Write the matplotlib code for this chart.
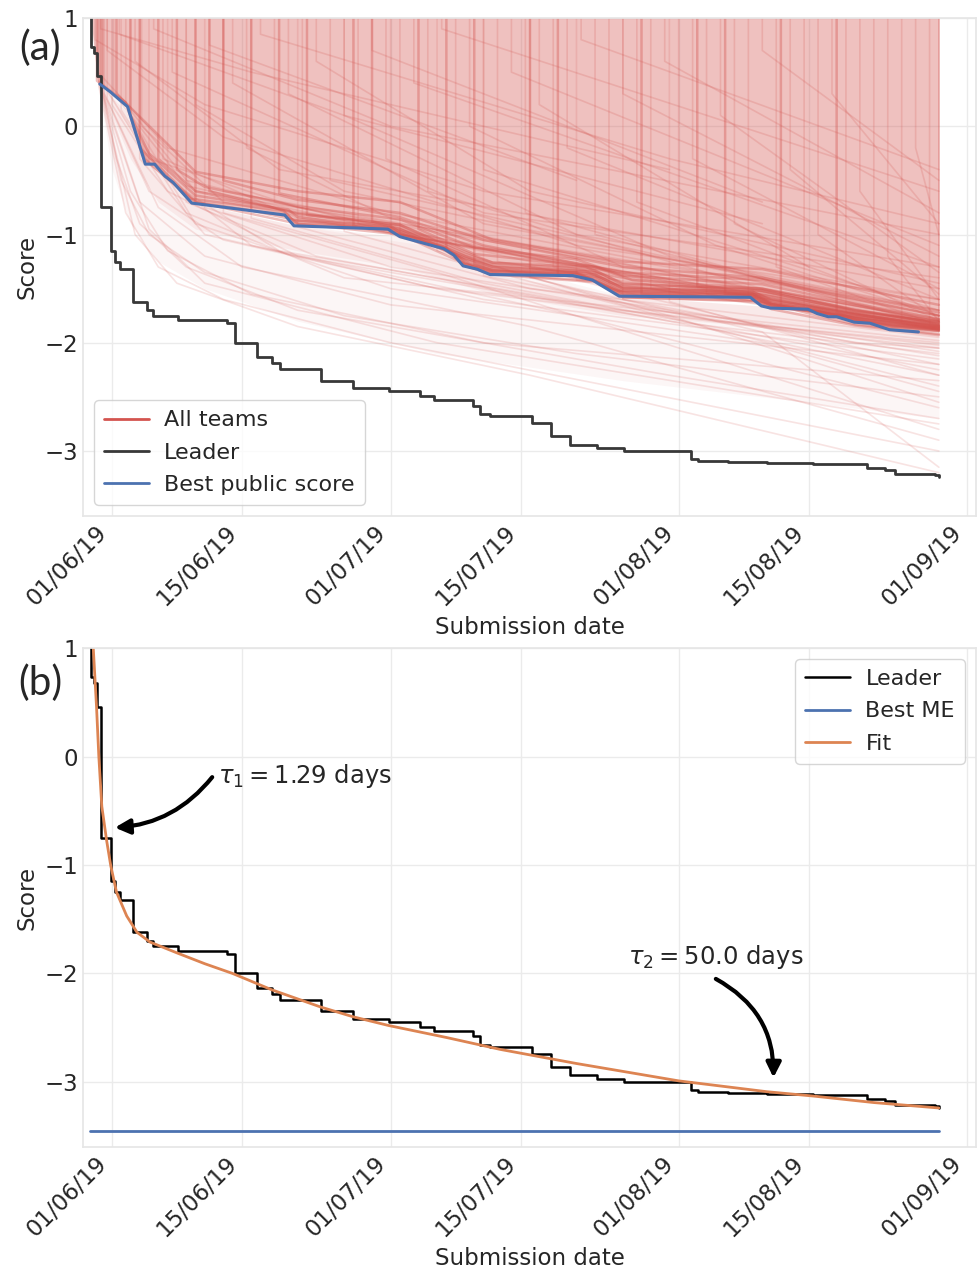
import numpy as np
import pandas as pd
import matplotlib
matplotlib.use('Agg')
import matplotlib.pyplot as plt
import matplotlib.dates as mdates
from matplotlib.lines import Line2D
import seaborn as sns

sns.set_theme(style='whitegrid')
plt.rcParams['font.family'] = ['DejaVu Sans', 'Noto Sans']
plt.rcParams['axes.unicode_minus'] = True

# days counted from 01/06/19
leader_days = [-2.3, -2.22, -1.9, -1.6, -1.18, -1.15, -0.1, 0.3, 0.86, 2.26, 3.77, 4.41, 7.1,
               12.4, 13.2, 15.6, 17.2, 18.1, 22.5, 26.0, 29.8, 33.2, 34.7, 38.9, 39.6, 40.7,
               45.2, 47.3, 49.3, 52.2, 55.1, 62.3, 63.1, 66.3, 70.5, 75.5, 81.3, 83.2, 84.3,
               88.6, 89.0]
leader_score = [1.5, 0.73, 0.68, 0.46, 0.06, -0.75, -1.15, -1.25, -1.32, -1.62, -1.70, -1.75,
                -1.79, -1.82, -2.00, -2.13, -2.19, -2.24, -2.35, -2.42, -2.45, -2.49, -2.53,
                -2.58, -2.66, -2.68, -2.74, -2.86, -2.94, -2.97, -3.00, -3.07, -3.09, -3.10,
                -3.11, -3.12, -3.16, -3.18, -3.21, -3.22, -3.24]

public_days = [-1.3, -0.2, 1.7, 3.6, 4.6, 5.7, 6.6, 8.6, 18.6, 19.6, 29.7, 31.0, 34.8, 35.7,
               36.8, 37.8, 39.3, 40.7, 49.6, 51.7, 54.6, 68.7, 69.9, 70.9, 74.9, 75.9, 77.1,
               78.0, 79.9, 81.6, 83.0, 83.7, 86.8]
public_score = [0.39, 0.32, 0.18, -0.35, -0.35, -0.46, -0.52, -0.71, -0.82, -0.92, -0.95,
                -1.02, -1.11, -1.13, -1.19, -1.29, -1.32, -1.37, -1.38, -1.42, -1.57, -1.58,
                -1.66, -1.68, -1.69, -1.73, -1.76, -1.76, -1.81, -1.82, -1.86, -1.88, -1.90]

# lower edge of the dense mass of team curves, and of the lighter fan below it
crowd_days = [-2.25, -1.9, -1.5, -0.2, 1.7, 3.6, 4.6, 5.7, 6.6, 8.6, 18.6, 19.6, 29.7, 31.0,
              34.8, 36.8, 37.8, 40.7, 49.6, 51.7, 54.6, 68.7, 69.9, 74.9, 77.1, 79.9, 83.0, 89.0]
crowd_low = [1.0, 0.7, 0.4, 0.32, 0.18, -0.35, -0.36, -0.46, -0.52, -0.71, -0.82, -0.92, -0.95,
             -1.02, -1.11, -1.19, -1.29, -1.37, -1.38, -1.42, -1.57, -1.58, -1.66, -1.69, -1.76,
             -1.81, -1.86, -1.90]
near_days = [-1.5, 2.0, 5.0, 9.0, 20.0, 31.0, 41.0, 55.0, 70.0, 80.0, 89.0]
near_low = [0.4, -0.3, -0.7, -0.95, -1.15, -1.3, -1.55, -1.75, -1.85, -1.95, -2.05]
fan_days = [-1.5, 0.0, 2.0, 5.0, 10.0, 20.0, 35.0, 55.0, 75.0, 89.0]
fan_low = [0.4, -0.4, -0.9, -1.25, -1.5, -1.8, -2.1, -2.35, -2.55, -2.7]

fit_days = [-2.1, -2.0, -1.65, -1.4, -1.08, -0.57, -0.11, 0.5, 1.6, 2.7, 4.1, 7.0, 10.0, 13.0,
            17.2, 22.5, 26.0, 29.8, 36.0, 41.8, 50.0, 61.0, 70.5, 75.5, 82.0, 89.0]
fit_score = [1.06, 1.0, 0.46, 0.0, -0.46, -0.77, -1.01, -1.25, -1.47, -1.62, -1.71, -1.81,
             -1.91, -2.0, -2.15, -2.31, -2.40, -2.48, -2.59, -2.70, -2.83, -2.99, -3.09,
             -3.13, -3.19, -3.24]

best_me_days = [-2.3, 89.0]
best_me_score = [-3.45, -3.45]

# teams that sit above the public frontier
upper_teams = [
    [(-1.8, 2), (-1.8, 0.8), (10, 0.2), (40, -0.6), (89, -1.3)],
    [(-1.5, 2), (-1.5, 0.5), (6, -0.2), (30, -0.8), (89, -1.75)],
    [(-1.2, 2), (-1.2, 0.9), (15, 0.5), (60, -0.4)],
    [(-1.0, 2), (-1.0, 0.4), (4, -0.3), (20, -0.75), (89, -1.8)],
    [(-0.5, 2), (-0.5, 0.7), (12, -0.1), (50, -1.1), (89, -1.6)],
    [(0.2, 2), (0.2, 0.3), (8, -0.55), (45, -1.25), (89, -1.85)],
    [(0.8, 2), (0.8, 0.85), (25, 0.1), (70, -0.9)],
    [(1.5, 2), (1.5, 0.2), (9, -0.6), (89, -1.7)],
    [(2.5, 2), (2.5, 0.6), (18, -0.4), (89, -1.5)],
    [(3.2, 2), (3.2, 0.0), (12, -0.7), (60, -1.45), (89, -1.85)],
    [(4.5, 2), (4.5, 0.9), (30, 0.0), (89, -1.0)],
    [(5.5, 2), (5.5, -0.3), (20, -0.85), (89, -1.82)],
    [(6.5, 2), (6.5, 0.5), (40, -0.8), (89, -1.4)],
    [(8, 2), (8, -0.5), (35, -1.05), (89, -1.83)],
    [(9, 2), (9, 0.2), (25, -0.6), (89, -1.75)],
    [(10.5, 2), (10.5, 0.75), (50, -0.5)],
    [(12, 2), (12, -0.6), (89, -1.8)],
    [(13, 2), (13, 0.4), (40, -0.9), (89, -1.7)],
    [(14.5, 2), (14.5, -0.2), (30, -0.85), (89, -1.84)],
    [(16, 2), (16, 0.85), (60, -0.3), (89, -0.9)],
    [(17.5, 2), (17.5, -0.7), (60, -1.5)],
    [(19, 2), (19, 0.3), (50, -1.0), (89, -1.6)],
    [(20.5, 2), (20.5, -0.85), (89, -1.85)],
    [(22, 2), (22, 0.6), (45, -0.6), (89, -1.45)],
    [(23.5, 2), (23.5, -0.5), (89, -1.78)],
    [(25, 2), (25, 0.1), (60, -1.2), (89, -1.7)],
    [(26.5, 2), (26.5, -0.9), (89, -1.86)],
    [(28, 2), (28, 0.7), (70, -0.7)],
    [(29.5, 2), (29.5, -0.3), (55, -1.3), (89, -1.82)],
    [(31, 2), (31, -1.0), (89, -1.87)],
    [(32.5, 2), (32.5, 0.4), (89, -1.3)],
    [(34, 2), (34, -0.6), (70, -1.5), (89, -1.8)],
    [(35.5, 2), (35.5, 0.9), (89, -0.6)],
    [(37, 2), (37, -1.1), (89, -1.86)],
    [(38.5, 2), (38.5, 0.0), (65, -1.1), (89, -1.75)],
    [(40, 2), (40, -0.4), (89, -1.7)],
    [(41.5, 2), (41.5, -1.25), (89, -1.88)],
    [(43, 2), (43, 0.5), (89, -1.1)],
    [(44.5, 2), (44.5, -0.8), (89, -1.83)],
    [(46, 2), (46, 0.2), (75, -1.3)],
    [(47.5, 2), (47.5, -1.3), (89, -1.86)],
    [(49, 2), (49, -0.2), (89, -1.6)],
    [(50.5, 2), (50.5, 0.8), (89, -0.4)],
    [(52, 2), (52, -1.0), (89, -1.84)],
    [(53.5, 2), (53.5, -1.45), (89, -1.88)],
    [(55, 2), (55, 0.3), (89, -1.2)],
    [(56.5, 2), (56.5, -0.7), (89, -1.75)],
    [(58, 2), (58, -1.5), (89, -1.87)],
    [(59.5, 2), (59.5, 0.6), (89, -0.8)],
    [(61, 2), (61, -1.2), (89, -1.85)],
    [(62.5, 2), (62.5, -0.3), (89, -1.5)],
    [(64, 2), (64, -1.55), (89, -1.88)],
    [(65.5, 2), (65.5, 0.1), (89, -1.35)],
    [(67, 2), (67, -0.9), (89, -1.8)],
    [(68.5, 2), (68.5, -1.58), (89, -1.86)],
    [(70, 2), (70, 0.7), (89, -0.5)],
    [(71.5, 2), (71.5, -1.3), (89, -1.84)],
    [(73, 2), (73, -0.4), (89, -1.55)],
    [(74.5, 2), (74.5, -1.68), (89, -1.87)],
    [(76, 2), (76, -1.0), (89, -1.78)],
    [(77.5, 2), (77.5, 0.3), (89, -0.9)],
    [(79, 2), (79, -1.72), (89, -1.88)],
    [(80.5, 2), (80.5, -0.6), (89, -1.6)],
    [(82, 2), (82, -1.78), (89, -1.87)],
    [(83.5, 2), (83.5, -1.2), (89, -1.8)],
    [(85, 2), (85, -1.82), (89, -1.88)],
    [(86.5, 2), (86.5, -0.2), (89, -1.0)],
    [(88, 2), (88, -1.85), (89, -1.87)],
    [(89, 2), (89, -1.86)],
    [(89, 2), (89, -1.9)],
]

# teams hugging the best public score
band_teams = [
    [(-1.6, 2), (-1.6, 0.42), (1.5, 0.22), (3.5, -0.3), (8.5, -0.67), (18.5, -0.78), (19.5, -0.87),
     (30, -0.92), (31, -0.98), (37, -1.18), (38.5, -1.27), (41, -1.33), (50, -1.35), (54.5, -1.52),
     (69, -1.55), (71, -1.64), (76, -1.69), (80, -1.77), (84, -1.83), (89, -1.86)],
    [(2, 2), (2, 0.1), (4, -0.25), (9, -0.64), (19, -0.77), (20, -0.84), (31, -0.95), (38, -1.2),
     (41, -1.3), (51, -1.34), (55, -1.49), (69, -1.53), (71, -1.6), (80, -1.74), (89, -1.84)],
    [(5, 2), (5, -0.3), (9, -0.6), (20, -0.8), (31, -0.91), (38, -1.16), (41, -1.26), (51, -1.3),
     (55, -1.45), (70, -1.52), (80, -1.7), (89, -1.82)],
    [(7, 2), (7, -0.4), (10, -0.56), (20, -0.74), (31, -0.86), (39, -1.12), (50, -1.23), (55, -1.38),
     (70, -1.46), (80, -1.64), (89, -1.78)],
    [(9, 2), (9, -0.7), (19, -0.83), (20, -0.9), (30, -0.94), (31, -1.0), (36, -1.13), (38, -1.27),
     (41, -1.35), (50, -1.37), (52, -1.42), (55, -1.55), (69, -1.58), (71, -1.66), (76, -1.71),
     (80, -1.79), (84, -1.85), (89, -1.88)],
    [(12, 2), (12, -0.5), (20, -0.68), (31, -0.8), (40, -1.05), (55, -1.3), (70, -1.4), (89, -1.72)],
    [(15, 2), (15, -0.78), (20, -0.87), (31, -0.97), (38, -1.23), (41, -1.32), (52, -1.39),
     (55, -1.52), (69, -1.55), (71, -1.63), (80, -1.76), (89, -1.85)],
    [(21, 2), (21, -0.82), (31, -0.93), (38, -1.2), (41, -1.28), (52, -1.35), (55, -1.48),
     (70, -1.54), (80, -1.72), (89, -1.81)],
    [(26, 2), (26, -0.92), (31, -0.99), (36, -1.12), (38, -1.26), (41, -1.34), (50, -1.36),
     (55, -1.54), (69, -1.57), (71, -1.65), (80, -1.78), (89, -1.87)],
    [(33, 2), (33, -0.95), (39, -1.18), (52, -1.3), (56, -1.42), (70, -1.5), (89, -1.79)],
    [(39, 2), (39, -1.27), (41, -1.33), (52, -1.4), (55, -1.53), (69, -1.56), (71, -1.64),
     (80, -1.77), (89, -1.86)],
    [(45, 2), (45, -1.31), (52, -1.37), (55, -1.5), (70, -1.56), (80, -1.74), (89, -1.84)],
    [(57, 2), (57, -1.55), (69, -1.58), (71, -1.66), (76, -1.71), (80, -1.79), (89, -1.88)],
    [(63, 2), (63, -1.48), (70, -1.52), (80, -1.71), (89, -1.81)],
    [(72, 2), (72, -1.66), (76, -1.71), (80, -1.79), (84, -1.85), (89, -1.89)],
    [(3, 2), (3, -0.2), (9, -0.7), (20, -0.9), (31, -1.0), (38, -1.27), (41, -1.36), (52, -1.43),
     (55, -1.58), (70, -1.62), (76, -1.75), (80, -1.83), (89, -1.92)],
    [(18, 2), (18, -0.62), (31, -0.84), (40, -1.1), (55, -1.35), (70, -1.42), (89, -1.75)],
    [(0.5, 2), (0.5, 0.3), (9, -0.42), (20, -0.6), (31, -0.7), (41, -1.05), (55, -1.25),
     (70, -1.32), (89, -1.65)],
    [(28, 2), (28, -0.88), (31, -0.95), (38, -1.22), (41, -1.3), (52, -1.37), (55, -1.5),
     (69, -1.53), (71, -1.61), (80, -1.74), (89, -1.83)],
    [(48, 2), (48, -1.37), (52, -1.43), (55, -1.56), (69, -1.59), (71, -1.67), (76, -1.72),
     (80, -1.8), (89, -1.89)],
    [(66, 2), (66, -1.55), (69, -1.55), (71, -1.63), (80, -1.76), (89, -1.85)],
    [(78, 2), (78, -1.72), (80, -1.78), (84, -1.84), (89, -1.87)],
    [(10.5, 2), (10.5, -0.6), (20, -0.81), (31, -0.91), (38, -1.18), (41, -1.26), (52, -1.33),
     (55, -1.46), (70, -1.5), (80, -1.7), (89, -1.8)],
    [(36, 2), (36, -1.15), (38, -1.29), (41, -1.37), (52, -1.44), (55, -1.58), (69, -1.61),
     (71, -1.69), (80, -1.84), (89, -1.93)],
]

# teams below the public frontier
lower_teams = [
    [(-1.3, 2), (-1.3, 0.38), (1, -0.5), (4, -1.0), (10, -1.35), (25, -1.75), (50, -2.1), (89, -2.5)],
    [(-1.2, 2), (-1.2, 0.36), (2, -0.6), (6, -1.15), (15, -1.55), (40, -2.0), (89, -2.35)],
    [(-1.0, 2), (-1.0, 0.35), (0.5, -0.3), (3, -0.9), (8, -1.3), (20, -1.7), (60, -2.3), (89, -2.7)],
    [(-1.1, 2), (-1.1, 0.33), (3, -0.7), (10, -1.2), (30, -1.65), (89, -2.2)],
    [(-0.8, 2), (-0.8, 0.3), (4, -0.6), (12, -1.05), (35, -1.5), (89, -2.05)],
    [(-0.5, 2), (-0.5, 0.25), (5, -0.75), (14, -1.3), (45, -1.85), (89, -2.9)],
    [(-1.4, 2), (-1.4, 0.37), (1.5, -0.8), (5, -1.3), (12, -1.6), (30, -2.0), (89, -3.0)],
    [(0, 2), (0, 0.2), (6, -0.6), (20, -1.2), (60, -1.8), (89, -2.1)],
    [(1, 2), (1, 0.15), (8, -0.8), (25, -1.4), (89, -1.98)],
    [(2, 2), (2, 0.1), (9, -0.9), (30, -1.5), (70, -2.0), (89, -2.45)],
    [(3, 2), (3, -0.3), (10, -1.0), (40, -1.6), (89, -2.15)],
    [(4, 2), (4, -0.35), (15, -1.1), (50, -1.75), (89, -2.6)],
    [(6, 2), (6, -0.5), (18, -1.15), (55, -1.7), (89, -2.02)],
    [(8, 2), (8, -0.7), (22, -1.2), (60, -1.8), (89, -2.3)],
    [(10, 2), (10, -0.75), (30, -1.3), (89, -2.08)],
    [(12, 2), (12, -0.8), (35, -1.35), (89, -2.8)],
    [(15, 2), (15, -0.85), (40, -1.45), (89, -2.25)],
    [(20, 2), (20, -0.93), (45, -1.5), (89, -1.95)],
    [(25, 2), (25, -0.97), (50, -1.55), (89, -2.4)],
    [(30, 2), (30, -1.0), (55, -1.65), (89, -2.12)],
    [(35, 2), (35, -1.15), (60, -1.75), (89, -2.55)],
    [(40, 2), (40, -1.38), (65, -1.8), (89, -2.0)],
    [(45, 2), (45, -1.4), (70, -1.9), (89, -3.15)],
    [(50, 2), (50, -1.42), (75, -1.95), (89, -2.2)],
    [(55, 2), (55, -1.6), (80, -2.0), (89, -2.05)],
    [(60, 2), (60, -1.62), (89, -2.3)],
    [(-1.2, 2), (-1.2, 0.36), (2.5, -1.0), (7, -1.45), (20, -1.85), (45, -2.3), (89, -3.2)],
    [(-0.9, 2), (-0.9, 0.32), (4, -0.95), (10, -1.45), (35, -2.0), (89, -2.75)],
]

tau_labels = [r'$\tau_1 = 1.29$ days', r'$\tau_2 = 50.0$ days']
tick_dates = ['2019-06-01', '2019-06-15', '2019-07-01', '2019-07-15', '2019-08-01',
              '2019-08-15', '2019-09-01']

red = '#d4544f'
blue = '#4c72b0'
orange = '#dd8452'
day0 = pd.Timestamp('2019-06-01')


def to_date(days):
    return day0 + pd.to_timedelta(np.asarray(days, dtype=float), unit='D')


def style(ax):
    ax.set_xlim(to_date([-3.1])[0], to_date([93.0])[0])
    ax.set_ylim(-3.6, 1.0)
    ax.set_yticks([-3, -2, -1, 0, 1])
    ax.set_xticks(pd.to_datetime(tick_dates))
    ax.xaxis.set_major_formatter(mdates.DateFormatter('%d/%m/%y'))
    ax.tick_params(labelsize=16.5, colors='#262626', length=0)
    for lab in ax.get_xticklabels():
        lab.set_rotation(45)
        lab.set_ha('right')
    ax.grid(True, color='#ebebeb', lw=1)
    for sp in ax.spines.values():
        sp.set_color('#e6e6e6')
    ax.set_xlabel('Submission date', fontsize=16.5, color='#262626')
    ax.set_ylabel('Score', fontsize=16.5, color='#262626')


fig = plt.figure(figsize=(9.77, 12.68), dpi=100)
ax1 = fig.add_axes([0.085, 0.5931, 0.914, 0.3927])
ax2 = fig.add_axes([0.085, 0.0954, 0.914, 0.3935])

# the mass of overlapping team curves
ax1.fill_between(to_date(crowd_days), crowd_low, 2, color=red, alpha=0.36, lw=0)
ax1.fill_between(to_date(near_days), np.interp(near_days, crowd_days, crowd_low), near_low,
                 color=red, alpha=0.07, lw=0)
ax1.fill_between(to_date(fan_days), np.interp(fan_days, crowd_days, crowd_low), fan_low,
                 color=red, alpha=0.05, lw=0)
for team in upper_teams:
    d, s = zip(*team)
    ax1.plot(to_date(d), s, color=red, alpha=0.2, lw=1.2)
for team in band_teams:
    d, s = zip(*team)
    ax1.plot(to_date(d), s, color=red, alpha=0.38, lw=1.8)
for team in lower_teams:
    d, s = zip(*team)
    ax1.plot(to_date(d), s, color=red, alpha=0.16, lw=1.2)
ax1.step(to_date(leader_days), leader_score, where='post', color='#383838', lw=2)
ax1.plot(to_date(public_days), public_score, color=blue, lw=2.2)
style(ax1)
handles = [Line2D([], [], color=red, lw=2), Line2D([], [], color='#383838', lw=2),
           Line2D([], [], color=blue, lw=2)]
ax1.legend(handles, ['All teams', 'Leader', 'Best public score'], loc='lower left',
           fontsize=16, labelspacing=0.55, borderpad=0.45, handletextpad=0.7)

ax2.step(to_date(leader_days), leader_score, where='post', color='black', lw=1.8, label='Leader')
ax2.plot(to_date(best_me_days), best_me_score, color=blue, lw=2, label='Best ME')
ax2.plot(to_date(fit_days), fit_score, color=orange, lw=2, label='Fit')
style(ax2)
ax2.legend(loc='upper right', fontsize=16, labelspacing=0.55, borderpad=0.45, handletextpad=0.7)

arrow = dict(arrowstyle='-|>', color='black', lw=3, mutation_scale=22, shrinkA=0, shrinkB=0)
ax2.annotate('', xy=(to_date([0.32])[0], -0.655), xytext=(to_date([10.8])[0], -0.19),
             arrowprops=dict(connectionstyle='arc3,rad=-0.22', **arrow))
ax2.text(to_date([11.4])[0], -0.18, tau_labels[0], fontsize=17.5, va='center', ha='left',
         color='#262626')
ax2.annotate('', xy=(to_date([71.2])[0], -2.96), xytext=(to_date([65.0])[0], -2.05),
             arrowprops=dict(connectionstyle='arc3,rad=-0.3', **arrow))
ax2.text(to_date([55.6])[0], -1.85, tau_labels[1], fontsize=17.5, va='center', ha='left',
         color='#262626')

fig.text(40 / 977, 1 - 48 / 1268, '(a)', fontsize=29, family=['Lato', 'DejaVu Sans'],
         ha='center', va='center')
fig.text(40 / 977, 1 - 683 / 1268, '(b)', fontsize=29, family=['Lato', 'DejaVu Sans'],
         ha='center', va='center')

fig.savefig('out.png', dpi=100)
